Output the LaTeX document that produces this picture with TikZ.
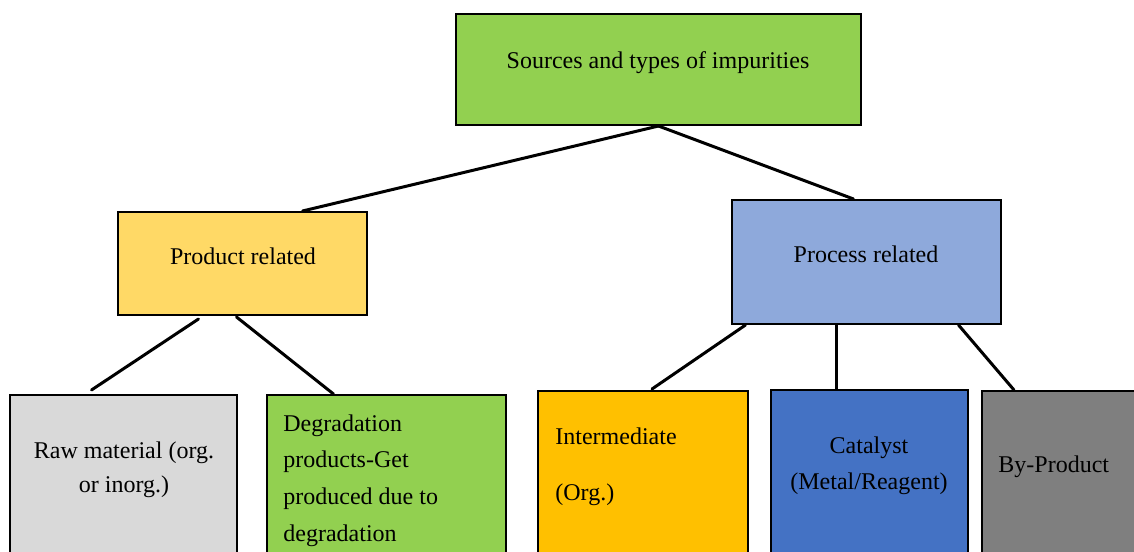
\documentclass[tikz,border=0pt]{standalone}
\usepackage{fontspec}
\setmainfont{Liberation Serif}
\usepackage{xcolor}
\usepackage{tikz}
\usetikzlibrary{positioning, calc}

\definecolor{leafgreen}{HTML}{92D050}
\definecolor{prodyellow}{HTML}{FFD966}
\definecolor{procblue}{HTML}{8EA9DB}
\definecolor{rawgray}{HTML}{D9D9D9}
\definecolor{interorange}{HTML}{FFC000}
\definecolor{catblue}{HTML}{4472C4}
\definecolor{bygray}{HTML}{7F7F7F}

\begin{document}
\begin{tikzpicture}[
    x=0.5pt, y=-0.5pt,
    box/.style={draw, line width=1pt, inner sep=0pt},
    boxtext/.style={inner sep=0pt, font=\fontsize{12}{18}\selectfont},
    link/.style={line width=1.5pt, line cap=round}
]
\useasboundingbox (0,0) rectangle (1134,551);
\clip (0,0) rectangle (1134,551);

% ---- Top box ----
\node[box, fill=leafgreen, minimum width=202.5pt, minimum height=55.5pt] (top) at (658.5, 69.5) {};
\node[boxtext] (toptxt) at (658, 63) {Sources and types of impurities};

% ---- Second level ----
\node[box, fill=prodyellow, minimum width=124.5pt, minimum height=51.5pt] (prod) at (242.5, 263.5) {};
\node[boxtext] (prodtxt) at (243, 256) {Product related};
\node[box, fill=procblue, minimum width=134.5pt, minimum height=62pt] (proc) at (866.5, 262) {};
\node[boxtext] (proctxt) at (866, 254) {Process related};

% ---- Leaves (run off the bottom edge) ----
\node[box, fill=rawgray, minimum width=113.5pt, minimum height=85pt] (raw) at (123.5, 480) {};
\node[boxtext, align=center, font=\fontsize{12}{17}\selectfont] (rawtxt) at (124, 470) {Raw material (org.\\or inorg.)};
\node[box, fill=leafgreen, minimum width=119.5pt, minimum height=85pt] (deg) at (386.5, 480) {};
\node[boxtext, align=left, anchor=west, font=\fontsize{12}{18.3}\selectfont] (degtxt) at (283, 480.5)
    {Degradation\\products-Get\\produced due to\\degradation};
\node[box, fill=interorange, minimum width=105pt, minimum height=87pt] (inter) at (643, 478) {};
\node[boxtext, align=left, anchor=west, font=\fontsize{12}{28}\selectfont] (intertxt) at (555, 467) {Intermediate\\(Org.)};
\node[box, fill=catblue, minimum width=98.5pt, minimum height=87.5pt] (cat) at (869.5, 477.5) {};
\node[boxtext, align=center] (cattxt) at (869, 466) {Catalyst\\(Metal/Reagent)};
\node[box, fill=bygray, minimum width=80pt, minimum height=87pt] (byp) at (1062, 478) {};
\node[boxtext, anchor=west] (byptxt) at (998, 467) {By-Product};

% ---- Connectors ----
\draw[link] (top.south) -- ($(prod.north)+(60,0)$);
\draw[link] (top.south) -- ($(proc.north)+(-13,0)$);
\draw[link] ($(prod.south)+(-44,3)$) -- ($(raw.north)+(-32,-4)$);
\draw[link] ($(prod.south)+(-6,1)$) -- ($(deg.north)+(-53,0)$);
\draw[link] ($(proc.south)+(-121,0)$) -- ($(inter.north)+(9,-1)$);
\draw[link] ($(proc.south)+(-30,0)$) -- ($(cat.north)+(-33,0)$);
\draw[link] ($(proc.south)+(92,0)$) -- ($(byp.north)+(-48,0)$);

\end{tikzpicture}
\end{document}
